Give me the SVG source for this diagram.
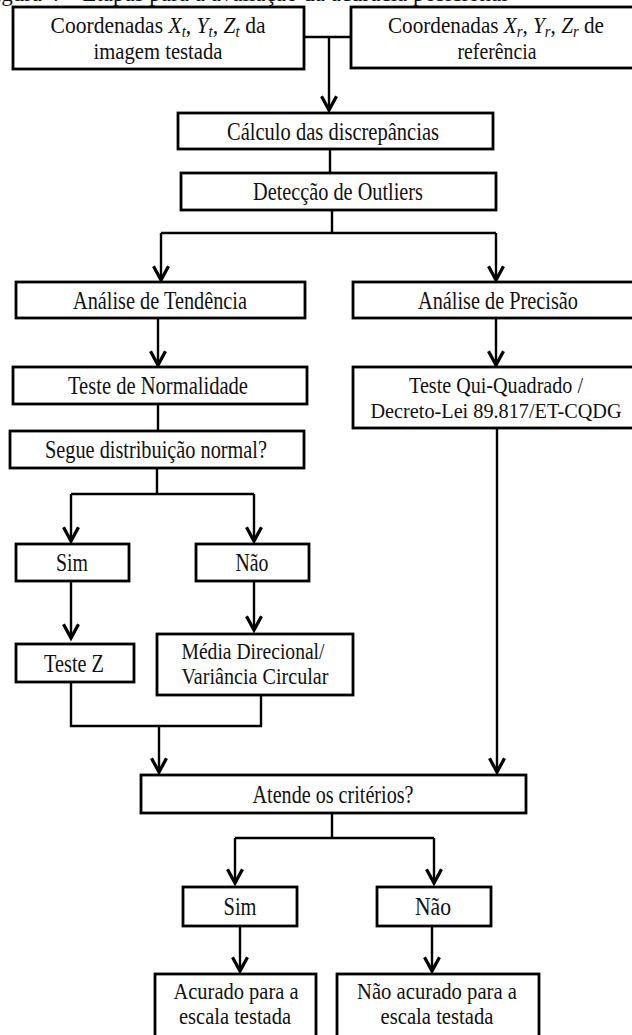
<svg xmlns="http://www.w3.org/2000/svg" width="632" height="1035" viewBox="0 0 632 1035">
<style>
text{font-family:"Liberation Serif","Times New Roman",serif;fill:#111;text-anchor:middle}
.t1{font-size:26px}
.t2{font-size:23px}
.m{font-style:italic}
.s{font-style:italic;font-size:16px}
.n rect{fill:#fff;stroke:#000;stroke-width:2.8}
.c path{fill:none;stroke:#000;stroke-width:2.4}
</style>
<defs>
<marker id="ah" markerUnits="userSpaceOnUse" markerWidth="20" markerHeight="20" refX="0" refY="0" orient="auto" viewBox="-12 -8 14 16" overflow="visible">
<path d="M-11,-6 L0,0 L-11,6" fill="none" stroke="#000" stroke-width="2.6"/>
</marker>
</defs>
<rect x="0" y="0" width="632" height="1035" fill="#fff"/>
<text class="t2" x="-18" y="1" style="text-anchor:start">Figura 4 – Etapas para a avaliação da acurácia posicional</text>

<g class="c">
<path d="M304,37 H351"/>
<path d="M329,37 V110" marker-end="url(#ah)"/>
<path d="M330,149 V173"/>
<path d="M332,210 V233 M161,233 H496"/>
<path d="M161,233 V280" marker-end="url(#ah)"/>
<path d="M496,233 V280" marker-end="url(#ah)"/>
<path d="M158,318 V365" marker-end="url(#ah)"/>
<path d="M496,318 V365" marker-end="url(#ah)"/>
<path d="M158,404 V431"/>
<path d="M157,468 V494 M71,494 H254"/>
<path d="M71,494 V541" marker-end="url(#ah)"/>
<path d="M254,494 V541" marker-end="url(#ah)"/>
<path d="M71,581 V638" marker-end="url(#ah)"/>
<path d="M254,581 V630" marker-end="url(#ah)"/>
<path d="M71,682 V726 H261 V695"/>
<path d="M159,726 V772" marker-end="url(#ah)"/>
<path d="M497,428 V772" marker-end="url(#ah)"/>
<path d="M332,813 V838 M235,838 H434"/>
<path d="M235,838 V883" marker-end="url(#ah)"/>
<path d="M434,838 V883" marker-end="url(#ah)"/>
<path d="M240,926 V971" marker-end="url(#ah)"/>
<path d="M432,926 V971" marker-end="url(#ah)"/>
</g>

<g id="n-coord-t" class="n">
<rect x="13" y="7" width="291" height="62"/>
<text class="t2" x="158" y="33" textLength="215" lengthAdjust="spacingAndGlyphs">Coordenadas <tspan class="m">X</tspan><tspan class="s" dy="4">t</tspan><tspan dy="-4">, </tspan><tspan class="m">Y</tspan><tspan class="s" dy="4">t</tspan><tspan dy="-4">, </tspan><tspan class="m">Z</tspan><tspan class="s" dy="4">t</tspan><tspan dy="-4"> da</tspan></text>
<text class="t2" x="158" y="59" textLength="129" lengthAdjust="spacingAndGlyphs">imagem testada</text>
</g>
<g id="n-coord-r" class="n">
<rect x="351" y="7" width="290" height="61"/>
<text class="t2" x="496" y="33" textLength="216" lengthAdjust="spacingAndGlyphs">Coordenadas <tspan class="m">X</tspan><tspan class="s" dy="4">r</tspan><tspan dy="-4">, </tspan><tspan class="m">Y</tspan><tspan class="s" dy="4">r</tspan><tspan dy="-4">, </tspan><tspan class="m">Z</tspan><tspan class="s" dy="4">r</tspan><tspan dy="-4"> de</tspan></text>
<text class="t2" x="497" y="59" textLength="79" lengthAdjust="spacingAndGlyphs">referência</text>
</g>
<g id="n-calculo" class="n">
<rect x="178" y="113" width="315" height="36"/>
<text class="t1" x="333" y="140" textLength="212" lengthAdjust="spacingAndGlyphs">Cálculo das discrepâncias</text>
</g>
<g id="n-deteccao" class="n">
<rect x="181" y="173" width="315" height="37"/>
<text class="t1" x="338" y="200" textLength="170" lengthAdjust="spacingAndGlyphs">Detecção de Outliers</text>
</g>
<g id="n-tendencia" class="n">
<rect x="16" y="282" width="289" height="36"/>
<text class="t1" x="160" y="309" textLength="174" lengthAdjust="spacingAndGlyphs">Análise de Tendência</text>
</g>
<g id="n-precisao" class="n">
<rect x="353" y="282" width="288" height="36"/>
<text class="t1" x="498" y="309" textLength="160" lengthAdjust="spacingAndGlyphs">Análise de Precisão</text>
</g>
<g id="n-normalidade" class="n">
<rect x="13" y="367" width="294" height="37"/>
<text class="t1" x="158" y="394" textLength="180" lengthAdjust="spacingAndGlyphs">Teste de Normalidade</text>
</g>
<g id="n-quiquadrado" class="n">
<rect x="353" y="367" width="288" height="61"/>
<text class="t2" x="496" y="393" textLength="174" lengthAdjust="spacingAndGlyphs">Teste Qui-Quadrado /</text>
<text class="t2" x="496" y="418" style="font-size:21px" textLength="251" lengthAdjust="spacingAndGlyphs">Decreto-Lei 89.817/ET-CQDG</text>
</g>
<g id="n-segue" class="n">
<rect x="10" y="431" width="294" height="37"/>
<text class="t1" x="156" y="458" textLength="222" lengthAdjust="spacingAndGlyphs">Segue distribuição normal?</text>
</g>
<g id="n-sim1" class="n">
<rect x="16" y="544" width="113" height="37"/>
<text class="t1" x="72" y="571" textLength="32" lengthAdjust="spacingAndGlyphs">Sim</text>
</g>
<g id="n-nao1" class="n">
<rect x="196" y="544" width="113" height="37"/>
<text class="t1" x="252" y="571" textLength="33" lengthAdjust="spacingAndGlyphs">Não</text>
</g>
<g id="n-testez" class="n">
<rect x="16" y="644" width="118" height="38"/>
<text class="t1" x="74" y="672" textLength="60" lengthAdjust="spacingAndGlyphs">Teste Z</text>
</g>
<g id="n-media" class="n">
<rect x="157" y="634" width="196" height="61"/>
<text class="t2" x="253" y="659" textLength="143" lengthAdjust="spacingAndGlyphs">Média Direcional/</text>
<text class="t2" x="255" y="684" textLength="147" lengthAdjust="spacingAndGlyphs">Variância Circular</text>
</g>
<g id="n-atende" class="n">
<rect x="141" y="775" width="385" height="38"/>
<text class="t1" x="333" y="803" textLength="161" lengthAdjust="spacingAndGlyphs">Atende os critérios?</text>
</g>
<g id="n-sim2" class="n">
<rect x="183" y="887" width="114" height="39"/>
<text class="t1" x="240" y="915" textLength="33" lengthAdjust="spacingAndGlyphs">Sim</text>
</g>
<g id="n-nao2" class="n">
<rect x="377" y="887" width="114" height="39"/>
<text class="t1" x="433" y="915" textLength="36" lengthAdjust="spacingAndGlyphs">Não</text>
</g>
<g id="n-acurado" class="n">
<rect x="155" y="974" width="161" height="70"/>
<text class="t2" x="236" y="999" textLength="125" lengthAdjust="spacingAndGlyphs">Acurado para a</text>
<text class="t2" x="235" y="1024" textLength="112" lengthAdjust="spacingAndGlyphs">escala testada</text>
</g>
<g id="n-naoacurado" class="n">
<rect x="337" y="974" width="202" height="70"/>
<text class="t2" x="437" y="999" textLength="160" lengthAdjust="spacingAndGlyphs">Não acurado para a</text>
<text class="t2" x="437" y="1024" textLength="113" lengthAdjust="spacingAndGlyphs">escala testada</text>
</g>
</svg>
